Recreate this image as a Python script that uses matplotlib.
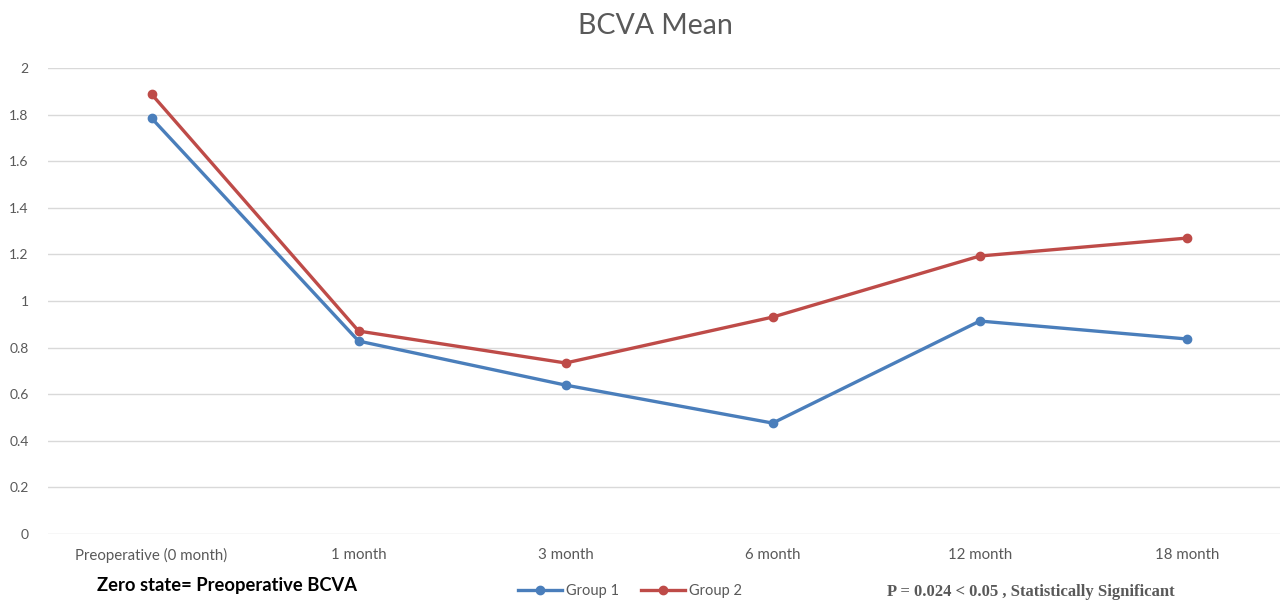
import numpy as np
import matplotlib
matplotlib.use("Agg")
import matplotlib.pyplot as plt

# data
categories = ["Preoperative (0 month)", "1 month", "3 month", "6 month",
              "12 month", "18 month"]
group1 = [1.785, 0.828, 0.639, 0.476, 0.914, 0.837]
group2 = [1.888, 0.871, 0.734, 0.931, 1.193, 1.270]
yticks = [0, 0.2, 0.4, 0.6, 0.8, 1, 1.2, 1.4, 1.6, 1.8, 2]
ytick_labels = ["0", "0.2", "0.4", "0.6", "0.8", "1", "1.2", "1.4", "1.6",
                "1.8", "2"]

BLUE = "#4A7EBB"
RED = "#BE4B48"
GREY = "#595959"

plt.rcParams['font.family'] = ['Lato', 'DejaVu Sans']

fig = plt.figure(figsize=(12.81, 6.01), dpi=100)
ax = fig.add_axes([48 / 1281, 1 - 534 / 601, 1232 / 1281, (534 - 68) / 601])

x = np.arange(len(categories))
ax.plot(x, group1, color=BLUE, lw=2.4, marker='o', ms=6, label="Group 1")
ax.plot(x, group2, color=RED, lw=2.4, marker='o', ms=6, label="Group 2")

ax.set_xlim(-0.5, len(categories) - 0.55)
ax.set_ylim(0, 2)
ax.set_yticks(yticks)
ax.set_yticklabels(ytick_labels)
ax.set_xticks(x)
ax.set_xticklabels(categories)
ax.tick_params(length=0, labelsize=10, labelcolor=GREY)
ax.tick_params(axis='x', labelsize=10.8, pad=10)
ax.tick_params(axis='y', pad=14)
ax.grid(axis='y', color="#D9D9D9", lw=1)
ax.set_axisbelow(True)
for s in ax.spines.values():
    s.set_visible(False)

fig.text(655 / 1281, 1 - 26 / 601, "BCVA Mean", ha='center', va='center',
         fontsize=20.5, color=GREY)

leg = fig.legend(loc='center', bbox_to_anchor=(630 / 1281, 1 - 591 / 601),
                 ncol=2, frameon=False, fontsize=10.5, handlelength=3,
                 columnspacing=1.5, handletextpad=0.3)
for t in leg.get_texts():
    t.set_color(GREY)

fig.text(97 / 1281, 1 - 586 / 601, "Zero state= Preoperative BCVA",
         ha='left', va='center', fontsize=13.2, fontweight='bold', color='black')
fig.text(887 / 1281, 1 - 592 / 601, "P = 0.024 < 0.05 , Statistically Significant",
         ha='left', va='center', fontsize=12, fontweight='bold', color=GREY,
         family=['Liberation Serif', 'DejaVu Serif'])

fig.savefig("out.png", dpi=100)
